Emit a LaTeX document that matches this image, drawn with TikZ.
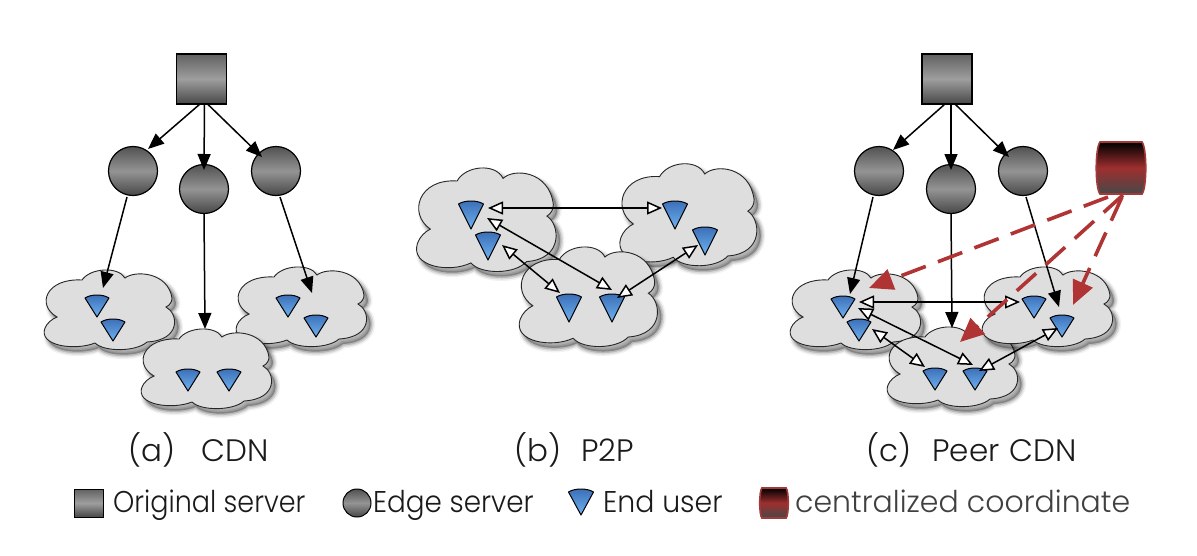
\documentclass[tikz,border=0pt]{standalone}
\usepackage{fontspec}
\setmainfont{Poppins Light}
\usetikzlibrary{arrows.meta}
\definecolor{cloudfill}{HTML}{DEDEDE}
\definecolor{redarr}{HTML}{B03434}
\definecolor{redline}{HTML}{A33A3A}
\definecolor{txt}{HTML}{1A1A1A}
\definecolor{fantop}{HTML}{3A6DB5}
\definecolor{fanbot}{HTML}{6FB2F2}
\tikzset{
  x=1pt,y=-1pt,
  anchornode/.style={inner sep=0pt,outer sep=0pt,minimum size=1pt},
  orig/.style={draw=black,line width=1.5pt,minimum width=50pt,minimum height=50pt,inner sep=0pt,outer sep=0pt,top color=black!62,bottom color=black!72,middle color=black!38},
  edgesrv/.style={circle,draw=black,line width=1.2pt,minimum size=49pt,inner sep=0pt,outer sep=0pt,top color=black!68,bottom color=black!72,middle color=black!42},
  fan/.style={draw=black,line width=1pt,line join=round,top color=fantop,bottom color=fanbot},
  cloudshape/.style={fill=cloudfill,draw=black!85,line width=.9pt},
  bk/.style={draw=black,line width=1.5pt,-{Triangle[length=16pt,width=13pt]}},
  op/.style={draw=black,line width=1.5pt,{Triangle[fill=white,length=15pt,width=13pt]}-{Triangle[fill=white,length=15pt,width=13pt]}},
  rd/.style={draw=redarr,line width=3.6pt,dash pattern=on 26pt off 13pt,-{Triangle[length=24pt,width=21pt]}},
  capt/.style={anchor=base west,inner sep=0pt,text=txt,font=\fontsize{31}{34}\selectfont},
  lab/.style={anchor=base west,inner sep=0pt,text=txt,xscale=.9,font=\fontsize{30}{34}\selectfont},
}
\newcommand{\cloudpath}{(-28,-30) .. controls (-20,-42) and (8,-44) .. (15,-32)
 .. controls (25,-40) and (58,-38) .. (62,-12)
 .. controls (62,-8) and (60,-5) .. (56,-3)
 .. controls (68,3) and (72,30) .. (37,32)
 .. controls (26,42) and (-6,42) .. (-15,33)
 .. controls (-35,41) and (-72,36) .. (-65,18)
 .. controls (-63,13) and (-58,9) .. (-53,7)
 .. controls (-74,-5) and (-64,-32) .. (-28,-30) -- cycle}
\newcommand{\cloudat}[5]{%
  \node[anchornode] (#1) at (#2,#3) {};
  \begin{scope}[shift={(#2+4,#3+5)},xscale=#4,yscale=#5]
    \fill[black,opacity=.05,line width=9pt,draw=black] \cloudpath;
    \fill[black,opacity=.1,line width=6pt,draw=black] \cloudpath;
    \fill[black,opacity=.15,line width=3pt,draw=black] \cloudpath;
  \end{scope}
  \begin{scope}[shift={(#2,#3)},xscale=#4,yscale=#5]
    \path[cloudshape] \cloudpath;
  \end{scope}}
\newcommand{\peeruser}[5]{%
  \node[anchornode,anchor=south,minimum width=#4pt,minimum height=#5pt] (#1) at (#2,#3) {};
  \begin{scope}[shift={(#2,#3)}]
    \path[fan] (0,0) -- (-#4/2,-#5+3) .. controls (-#4/4,-#5-1) and (#4/4,-#5-1) .. (#4/2,-#5+3) -- cycle;
  \end{scope}}
\newcommand{\coordbox}[4]{% name, x, y, size
  \node[anchornode,minimum size=#4pt] (#1) at (#2,#3) {};
  \begin{scope}[shift={(#2,#3)},scale=#4/52]
    \path[draw=redline,line width=1.6pt,top color=black,bottom color=black!72,middle color=redarr!90!black]
      (-21,-26) -- (21,-26) .. controls (26,-20) and (26,20) .. (21,26) -- (-21,26) .. controls (-26,20) and (-26,-20) .. (-21,-26) -- cycle;
  \end{scope}}
\begin{document}
\begin{tikzpicture}
\useasboundingbox (0,0) rectangle (1197,555);
\fill[white] (0,0) rectangle (1197,555);
% (a)
\cloudat{cal}{110}{310}{1}{1}
\cloudat{car}{302}{307}{1}{1}
\cloudat{cab}{207}{369}{1}{1}
\peeruser{ua1}{97}{317}{24}{22}
\peeruser{ua2}{113}{341}{24}{22}
\peeruser{ua3}{188}{391}{24}{22}
\peeruser{ua4}{229}{391}{24}{22}
\peeruser{ua5}{288}{317}{24}{22}
\peeruser{ua6}{316}{337}{24}{22}
\node[orig] (sa) at (201.5,79) {};
\node[edgesrv] (ea1) at (133,171) {};
\node[edgesrv] (ea2) at (204,189) {};
\node[edgesrv] (ea3) at (276,171) {};
\draw[bk] ([shift={(-1.5,0)}]sa.south) -- ([shift={(15,-22)}]ea1.center);
\draw[bk] ([shift={(3,0)}]sa.south) -- ([shift={(0,-19)}]ea2.center);
\draw[bk] ([shift={(6,0)}]sa.south) -- ([shift={(-14,-14)}]ea3.center);
\draw[bk] ([shift={(-6,26)}]ea1.center) -- ([shift={(6,-29)}]ua1.south);
\draw[bk] (ea2.south) -- ([shift={(-2,-40)}]cab.center);
\draw[bk] ([shift={(4,26)}]ea3.center) -- ([shift={(-4,-44)}]ua6.south);
% (b)
\cloudat{cbl}{487}{220}{1.07}{1.3}
\cloudat{cbr}{689}{215}{1.05}{1.28}
\cloudat{cbb}{589}{297}{1.06}{1.25}
\peeruser{ub1}{471}{229}{25}{28}
\peeruser{ub2}{488}{260}{25}{28}
\peeruser{ub3}{569}{322}{25}{28}
\peeruser{ub4}{612}{322}{25}{28}
\peeruser{ub5}{675}{229}{25}{28}
\peeruser{ub6}{705}{255}{25}{28}
\draw[op] ([shift={(17,-21)}]ub1.south) -- ([shift={(-13,-21)}]ub5.south);
\draw[op] ([shift={(16,-11)}]ub1.south) -- ([shift={(0,-32)}]ub4.south);
\draw[op] ([shift={(14,-15)}]ub2.south) -- ([shift={(-9,-29)}]ub3.south);
\draw[op] ([shift={(5,-24)}]ub4.south) -- ([shift={(-7,-10)}]ub6.south);
% (c)
\cloudat{ccl}{856}{310}{1}{1}
\cloudat{ccb}{953}{367}{1}{1}
\cloudat{ccr}{1048}{307}{1}{1}
\peeruser{uc1}{843}{318}{24}{22}
\peeruser{uc2}{859}{341}{24}{22}
\peeruser{uc3}{935}{390}{24}{22}
\peeruser{uc4}{975}{390}{24}{22}
\peeruser{uc5}{1034}{318}{24}{22}
\peeruser{uc6}{1062}{337}{24}{22}
\node[orig] (sc) at (947,79) {};
\node[edgesrv] (ec1) at (879,171) {};
\node[edgesrv] (ec2) at (951,189) {};
\node[edgesrv] (ec3) at (1023,171) {};
\coordbox{cr}{1121}{168}{52}
\draw[bk] ([shift={(-2,0)}]sc.south) -- ([shift={(14,-21)}]ec1.center);
\draw[bk] ([shift={(4,0)}]sc.south) -- ([shift={(0,-19)}]ec2.center);
\draw[bk] ([shift={(8,0)}]sc.south) -- ([shift={(-14,-14)}]ec3.center);
\draw[bk] ([shift={(-6,26)}]ec1.center) -- ([shift={(7,-24)}]uc1.south);
\draw[bk] (ec2.south) -- ([shift={(-1,-39)}]ccb.center);
\draw[bk] ([shift={(3,26)}]ec3.center) -- ([shift={(-3,-30)}]uc6.south);
\draw[op] ([shift={(16,-16)}]uc1.south) -- ([shift={(-14,-16)}]uc5.south);
\draw[op] ([shift={(15,-10)}]uc1.south) -- ([shift={(-2,-25)}]uc4.south);
\draw[op] ([shift={(13,-12)}]uc2.south) -- ([shift={(-10,-23)}]uc3.south);
\draw[op] ([shift={(4,-19)}]uc4.south) -- ([shift={(-4,-9)}]uc6.south);
\draw[rd] ([shift={(-13,29)}]cr.center) -- ([shift={(26,-30)}]uc1.south);
\draw[rd] ([shift={(2,27)}]cr.center) -- ([shift={(-15,-48)}]uc4.south);
\draw[rd] ([shift={(1,29)}]cr.center) -- ([shift={(11,-32)}]uc6.south);
% captions
\node[capt] (t1) at (128,461) {(a)\hspace{.85em}CDN};
\node[capt] (t2) at (514,461) {(b)\hspace{.65em}P2P};
\node[capt] (t3) at (866,461) {(c)\hspace{.68em}Peer\hspace{.05em} CDN};
% legend
\node[orig,minimum width=29pt,minimum height=28pt,line width=1pt] (l1) at (89,503) {};
\node[lab] (t4) at (113,512) {Original server};
\node[edgesrv,minimum size=28pt,line width=1pt] (l2) at (357,503) {};
\node[lab,xscale=1.03] (t5) at (373,512) {Edge server};
\peeruser{l3}{581}{515}{25}{26}
\node[lab,xscale=1.05] (t6) at (603,512) {End user};
\coordbox{l4}{774}{503}{30}
\node[lab,xscale=1.11,text=black!75] (t7) at (795,512) {centralized coordinate};
\end{tikzpicture}
\end{document}
